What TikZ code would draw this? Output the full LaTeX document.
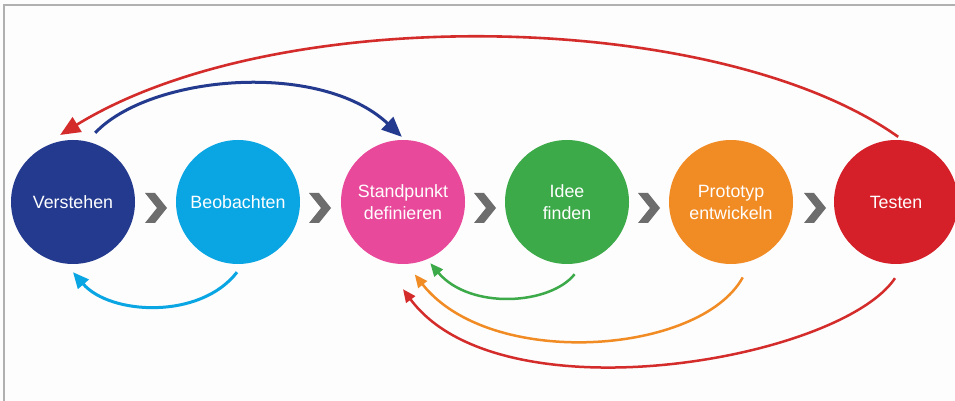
\documentclass[tikz,border=0pt]{standalone}
\usepackage{fontspec}
\setmainfont{Liberation Sans}
\usetikzlibrary{arrows.meta,calc}
\definecolor{cVer}{HTML}{233A8F}
\definecolor{cBeo}{HTML}{0AA5E3}
\definecolor{cSta}{HTML}{E8499A}
\definecolor{cIde}{HTML}{3CAA49}
\definecolor{cPro}{HTML}{F18B24}
\definecolor{cTes}{HTML}{D5202A}
\definecolor{cRedA}{HTML}{D42B2B}
\definecolor{cChev}{HTML}{6D6D6D}
\definecolor{cFrame}{HTML}{B0B0B0}
\definecolor{cBg}{HTML}{FDFDFD}
\tikzset{
  phase/.style={circle, minimum size=124pt, inner sep=0pt, text=white, align=center,
    font=\fontsize{17.8}{22}\selectfont},
  bigarrow/.style={line width=3pt, -{Triangle[length=20pt,width=17pt]}},
  smallarrow/.style={line width=2.5pt, -{Triangle[length=13pt,width=11pt]}},
  chevron/.style={fill=cChev, draw=none}
}
\begin{document}
\begin{tikzpicture}[x=1pt,y=1pt]
\useasboundingbox (0,0) rectangle (955,401);
\fill[cBg] (0,0) rectangle (955,401);
\draw[cFrame, line width=1.5pt] (4,0) -- (4,396) -- (955,396);

\node[phase, fill=cVer] (V) at (73,199) {Verstehen};
\node[phase, fill=cBeo] (B) at (238,199) {Beobachten};
\node[phase, fill=cSta] (S) at (403,199) {Standpunkt\\definieren};
\node[phase, fill=cIde] (I) at (567,199) {Idee\\finden};
\node[phase, fill=cPro] (P) at (731,199) {Prototyp\\entwickeln};
\node[phase, fill=cTes] (T) at (896,199) {Testen};

\foreach \cx in {156,320,485,649,815}{
  \fill[chevron] (\cx-11,208) -- (\cx-1,208) -- (\cx+11,193) -- (\cx-1,178) -- (\cx-11,178) -- (\cx+1,193) -- cycle;
}

% top arrows
\draw[bigarrow, cRedA, line width=2.6pt] ($(T.88)+(0,3)$) .. controls (720,391) and (280,401) .. ($(V.101)+(-1,6)$);
\draw[bigarrow, cVer] ($(V.72)+(3,10)$) .. controls (150,326) and (320,341) .. ($(S.92)+(1,3)$);

% bottom arrows
\draw[smallarrow, cBeo, line width=3pt, -{Triangle[length=16pt,width=14pt]}] ($(B.270)+(-1,-8)$) .. controls (200,81) and (110,86) .. ($(V.270)+(0,-8)$);
\draw[smallarrow, cIde] ($(I.277)+(0,-10.5)$) .. controls (550,96) and (470,91) .. ($(S.294)+(2,-4.4)$);
\draw[smallarrow, cPro] ($(P.279)+(2,-14)$) .. controls (700,46) and (490,31) .. ($(S.279)+(2,-11)$);
\draw[smallarrow, cRedA] ($(T.270)+(-1,-14)$) .. controls (840,41) and (500,-19) .. ($(S.270)+(0,-25)$);
\end{tikzpicture}
\end{document}
